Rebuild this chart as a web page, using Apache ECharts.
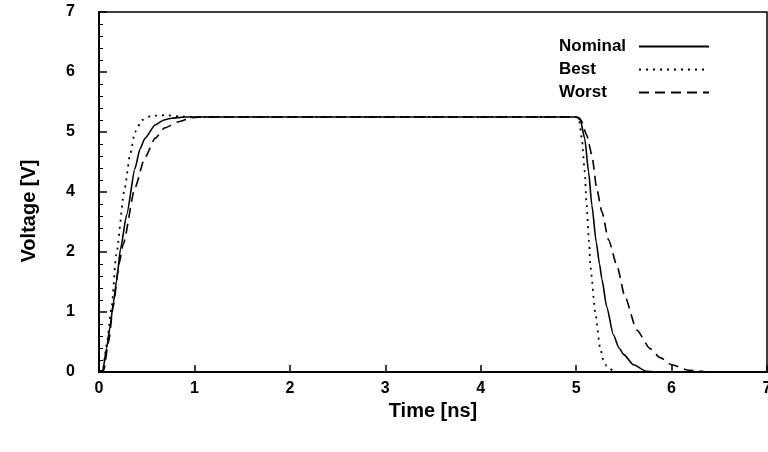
<!DOCTYPE html>
<html>
<head>
<meta charset="utf-8">
<script src="https://cdn.jsdelivr.net/npm/echarts@6/dist/echarts.min.js"></script>
<style>
html,body{margin:0;padding:0;background:#fff;}
#chart{width:768px;height:452px;}
</style>
</head>
<body>
<div id="chart"></div>
<script>
// Tick labels (the reference's y axis has 6 equal intervals labelled 0,1,2,4,5,6,7)
const xTickLabels = ['0','1','2','3','4','5','6','7'];
const yTickLabels = ['0','1','2','4','5','6','7'];
const seriesNames = ['Nominal','Best','Worst'];

// [time ns, value in y-axis position units]
const nominal = [
  [0,0],[0.04,0.03],[0.08,0.4],[0.115,0.75],[0.15,1.15],[0.185,1.53],[0.225,2.05],
  [0.29,2.62],[0.377,3.39],[0.43,3.72],[0.48,3.89],[0.59,4.12],[0.68,4.2],[0.76,4.23],
  [0.9,4.25],[1.0,4.25],[5.0,4.25],[5.04,4.23],[5.09,3.89],[5.13,3.34],[5.165,2.78],
  [5.21,2.17],[5.245,1.8],[5.27,1.55],[5.32,1.09],[5.39,0.62],[5.45,0.4],[5.5,0.29],
  [5.6,0.12],[5.74,0.01],[5.85,0]
];
const best = [
  [0,0],[0.04,0.03],[0.08,0.45],[0.133,1.09],[0.18,1.95],[0.27,3.07],[0.325,3.62],
  [0.377,4.0],[0.45,4.2],[0.55,4.27],[0.7,4.28],[0.85,4.26],[1.0,4.25],[5.0,4.25],
  [5.03,4.2],[5.06,3.89],[5.09,3.34],[5.11,2.78],[5.135,2.17],[5.15,1.75],[5.2,1.0],
  [5.25,0.42],[5.285,0.2],[5.32,0.1],[5.39,0.02],[5.42,0]
];
const worst = [
  [0,0],[0.05,0.03],[0.1,0.5],[0.15,1.1],[0.21,1.8],[0.255,2.14],[0.377,3.07],
  [0.48,3.57],[0.59,3.9],[0.69,4.07],[0.83,4.17],[0.97,4.24],[1.1,4.25],[5.0,4.25],
  [5.05,4.2],[5.11,3.95],[5.165,3.62],[5.215,3.06],[5.27,2.67],[5.34,2.2],[5.43,1.76],
  [5.51,1.26],[5.635,0.7],[5.775,0.39],[5.88,0.24],[6.0,0.12],[6.18,0.03],[6.37,0]
];

const FONT = 'Liberation Sans, Arial, sans-serif';
const chart = echarts.init(document.getElementById('chart'), null, {renderer:'canvas'});

function mkSeries(name, data, type, width) {
  return {
    name: name, type: 'line', data: data, symbol: 'none', showSymbol: false,
    smooth: 0.2, smoothMonotone: 'x',
    lineStyle: {color: '#000', width: width, type: type},
    itemStyle: {color: '#000'},
    emphasis: {disabled: true}
  };
}

chart.setOption({
  animation: false,
  backgroundColor: '#fff',
  grid: {left: 99, right: 1, top: 12, bottom: 80, show: true, borderColor: '#000', borderWidth: 1.5,
    backgroundColor: 'transparent', containLabel: false, outerBoundsMode: 'none'},
  legend: {
    orient: 'vertical', right: 53, top: 33, align: 'right',
    itemWidth: 70, itemHeight: 14, itemGap: 6,
    data: seriesNames,
    itemStyle: {color: 'rgba(0,0,0,0)', borderColor: 'rgba(0,0,0,0)', borderWidth: 0},
    formatter: function (n) { return '{a|' + n + '}'; },
    textStyle: {
      color: '#000', fontSize: 17, fontWeight: 'bold', fontFamily: FONT,
      rich: {a: {width: 75, align: 'left', color: '#000', fontSize: 17, fontWeight: 'bold', fontFamily: FONT}}
    }
  },
  xAxis: {
    type: 'value', min: 0, max: 7, interval: 1,
    name: 'Time [ns]', nameLocation: 'middle', nameGap: 28,
    nameTextStyle: {color: '#000', fontSize: 20, fontWeight: 'bold', fontFamily: FONT},
    axisLine: {show: true, onZero: false, lineStyle: {color: '#000', width: 2}},
    axisTick: {show: true, inside: true, length: 7, lineStyle: {color: '#000', width: 1.5}},
    axisLabel: {color: '#000', fontSize: 16, fontWeight: 'bold', fontFamily: FONT, margin: 9,
      formatter: function (v) { return xTickLabels[Math.round(v)]; }},
    splitLine: {show: false}
  },
  yAxis: {
    type: 'value', min: 0, max: 6, interval: 1,
    name: 'Voltage [V]', nameLocation: 'middle', nameGap: 60, nameRotate: 90,
    nameTextStyle: {color: '#000', fontSize: 20, fontWeight: 'bold', fontFamily: FONT, padding: [0, 38, 0, 0]},
    axisLine: {show: true, onZero: false, lineStyle: {color: '#000', width: 2}},
    axisTick: {show: true, inside: true, length: 8, lineStyle: {color: '#000', width: 1.5}},
    minorTick: {show: true, splitNumber: 5, length: 4, lineStyle: {color: '#000', width: 1}},
    axisLabel: {color: '#000', fontSize: 16, fontWeight: 'bold', fontFamily: FONT, margin: 24,
      formatter: function (v) { return yTickLabels[Math.round(v)]; }},
    splitLine: {show: false}
  },
  series: [
    mkSeries(seriesNames[0], nominal, 'solid', 1.6),
    mkSeries(seriesNames[1], best, [2, 5], 1.8),
    mkSeries(seriesNames[2], worst, [10, 6], 1.6)
  ]
});
</script>
</body>
</html>
